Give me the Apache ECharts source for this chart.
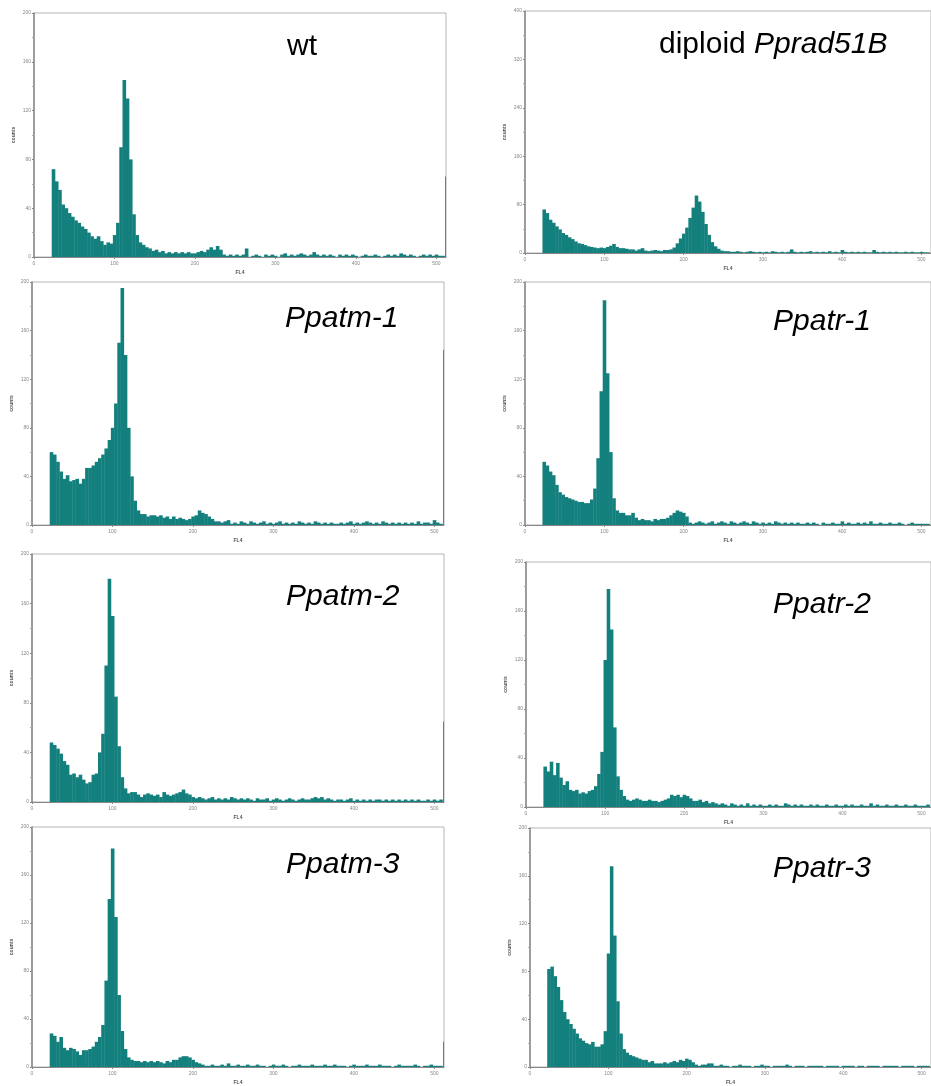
<!DOCTYPE html>
<html>
<head>
<meta charset="utf-8">
<script src="https://cdn.jsdelivr.net/npm/echarts@6/dist/echarts.min.js"></script>
<style>
  html, body { margin: 0; padding: 0; background: #fff; }
  #chart { width: 931px; height: 1086px; }
</style>
</head>
<body>
<div id="chart"></div>
<script>
// histogram bins: 4 channels wide, first bin starts at channel 22
const binStart = 22;
const binWidth = 4;

const wtCounts = [
  72,62,55,43,40,36,33,30,28,25, 23,20,17,15,17,13,10,12,11,18,
  28,90,145,130,80,35,18,12,10,8, 7,5,6,4,5,3,4,3,4,3,
  4,3,4,3,3,4,5,4,6,8, 6,9,6,2,1,2,1,2,1,2,
  7,0,1,2,1,0,2,1,2,1, 0,2,3,1,2,1,2,3,2,1,
  2,4,2,1,2,1,2,1,0,2, 1,2,1,2,1,0,1,2,1,1,
  2,1,0,1,2,1,2,1,3,2, 1,2,1,0,1,2,1,2,1,2, 1,1
];
const rad51bCounts = [
  72,66,55,50,44,39,33,30,26,23, 19,16,15,13,11,10,9,8,9,8,
  10,12,15,10,8,8,7,6,6,4, 6,8,4,3,4,5,4,3,5,5,
  6,9,16,24,32,42,58,75,95,85, 68,48,30,18,11,7,4,3,3,2,
  2,3,2,1,2,3,2,1,2,1, 2,1,3,2,1,2,1,2,6,2,
  1,2,1,2,3,1,2,1,2,1, 3,1,2,1,5,2,1,2,1,2,
  1,2,1,1,5,2,1,2,1,2, 1,2,1,1,2,1,2,1,1,2, 1,1
];
const atm1Counts = [
  60,58,52,44,38,41,36,37,38,34, 38,47,47,49,52,55,58,63,70,80,
  100,150,195,140,80,40,20,12,9,9, 7,8,8,7,8,6,7,5,7,5,
  6,5,4,5,7,8,12,10,9,7, 5,3,3,2,3,4,1,2,1,3,
  2,1,3,2,1,2,3,1,2,1, 2,3,1,2,1,2,1,3,2,1,
  2,1,3,2,1,2,1,2,1,1, 2,1,2,3,1,2,1,2,3,2,
  1,2,1,3,2,1,2,1,2,1, 2,1,2,1,3,1,2,2,1,4, 2,1
];
const atr1Counts = [
  52,49,44,41,33,27,25,23,22,21, 20,19,19,18,18,21,30,55,110,185,
  125,60,22,12,10,10,8,8,10,6, 4,5,4,4,3,5,4,5,5,6,
  8,10,12,11,10,7,2,1,2,3, 2,1,2,3,1,2,3,2,1,3,
  2,1,2,3,2,1,3,2,1,2, 1,2,1,3,2,1,2,1,2,1,
  2,1,1,2,1,2,1,0,2,1, 1,2,1,1,3,1,2,1,1,2,
  1,2,1,3,1,1,2,1,1,2, 1,1,2,1,0,1,2,1,1,1, 1,1
];
const atm2Counts = [
  48,46,43,39,33,30,22,23,20,22, 18,15,16,22,23,40,55,110,180,150,
  85,45,20,11,7,8,8,6,4,6, 7,6,5,6,4,8,6,5,6,7,
  8,10,7,6,4,3,4,3,2,3, 4,2,3,2,3,2,4,3,2,3,
  2,3,2,1,3,2,2,3,1,2, 3,2,1,2,3,2,1,2,3,2,
  2,3,4,3,4,2,3,2,1,2, 2,1,2,3,1,2,1,2,1,2,
  1,2,2,1,2,1,2,1,2,1, 2,1,2,1,2,1,1,2,1,2, 1,2
];
const atr2Counts = [
  33,29,37,26,36,24,18,21,14,13, 14,11,12,11,13,14,17,27,45,120,
  178,145,65,25,14,9,6,5,6,7, 6,5,5,6,5,5,4,5,6,7,
  10,9,10,8,10,9,7,5,5,6, 4,5,3,4,3,2,3,2,1,3,
  2,1,2,1,3,1,2,1,2,1, 1,2,1,2,1,1,3,2,1,2,
  1,2,1,1,2,1,2,1,1,2, 1,1,2,1,1,2,1,2,1,1,
  2,1,1,3,1,2,1,1,2,1, 1,2,1,1,2,1,1,2,1,1, 1,2
];
const atm3Counts = [
  28,26,21,25,16,14,16,15,13,10, 14,14,15,17,21,25,35,72,140,182,
  125,60,30,15,8,6,5,5,4,5, 4,5,4,5,4,3,5,4,6,6,
  8,9,9,8,6,4,3,2,1,1, 2,1,1,2,1,3,1,1,2,1,
  1,2,1,1,2,1,1,0,1,2, 1,1,2,1,0,1,1,2,1,1,
  1,2,1,1,1,2,1,1,2,1, 1,1,0,1,2,1,1,1,2,1,
  1,1,2,1,1,1,0,1,2,1, 1,1,1,2,1,0,1,1,2,1, 1,1
];
const atr3Counts = [
  82,84,76,67,56,46,40,36,32,28, 24,22,20,19,21,17,17,19,30,95,
  168,110,55,28,15,12,10,9,8,7, 6,6,4,5,3,3,3,4,3,4,
  5,4,6,5,7,6,4,2,1,2, 2,3,3,1,1,2,1,1,0,1,
  1,2,1,1,1,0,1,1,2,1, 1,0,1,1,1,1,2,1,0,1,
  1,1,0,1,1,1,1,1,0,1, 1,1,1,0,1,1,1,1,0,1,
  1,0,1,1,1,1,0,1,1,1, 1,1,0,1,1,1,1,0,1,1, 1,1
];

// overflow channel 511 at the right edge of each panel
const edgeCounts = [66, 0, 144, 0, 65, 0, 21, 0];

const sampleNames = ['wt', 'diploid Pprad51B', 'Ppatm-1', 'Ppatr-1', 'Ppatm-2', 'Ppatr-2', 'Ppatm-3', 'Ppatr-3'];
const yMaxes = [200, 400, 200, 200, 200, 200, 200, 200];
const xLabels = [0, 100, 200, 300, 400, 500];

const allCounts = [wtCounts, rad51bCounts, atm1Counts, atr1Counts, atm2Counts, atr2Counts, atm3Counts, atr3Counts];

// panel placement (px)
const layout = [
  { left: 34, top: 13, width: 412, height: 244, tx: 287, ty: 55 },
  { left: 525, top: 11, width: 411, height: 242, tx: 659, ty: 53 },
  { left: 32, top: 282, width: 412, height: 243, tx: 285, ty: 327 },
  { left: 525, top: 282, width: 411, height: 243, tx: 773, ty: 330 },
  { left: 32, top: 554, width: 412, height: 248, tx: 286, ty: 605 },
  { left: 526, top: 562, width: 409, height: 245, tx: 773, ty: 613 },
  { left: 32, top: 827, width: 412, height: 244, tx: 286, ty: 873 },
  { left: 530, top: 828, width: 402, height: 240, tx: 773, ty: 877 },
];

const barColor = '#14807e';

const chart = echarts.init(document.getElementById('chart'), null, { renderer: 'canvas' });

function renderBin(params, api) {
  const p0 = api.coord([api.value(0), api.value(2)]);
  const p1 = api.coord([api.value(1), 0]);
  return {
    type: 'rect',
    shape: { x: p0[0], y: p0[1], width: p1[0] - p0[0] + 0.4, height: p1[1] - p0[1] },
    style: { fill: barColor },
  };
}

const grids = [], xAxes = [], yAxes = [], series = [], graphics = [];

layout.forEach((pos, i) => {
  grids.push({
    left: pos.left, top: pos.top, width: pos.width, height: pos.height,
    show: true, borderColor: '#b5b5b5', borderWidth: 1, backgroundColor: 'transparent',
  });
  xAxes.push({
    gridIndex: i, type: 'value', min: 0, max: 512,
    name: 'FL4', nameLocation: 'middle', nameGap: 13,
    nameTextStyle: { fontSize: 5, fontWeight: 'bold', color: '#555' },
    axisLine: { lineStyle: { color: '#888', width: 1 } },
    axisTick: { customValues: xLabels, length: 2, lineStyle: { color: '#888' } },
    axisLabel: { customValues: xLabels, fontSize: 5, color: '#888', margin: 4 },
    splitLine: { show: false },
  });
  yAxes.push({
    gridIndex: i, type: 'value', min: 0, max: yMaxes[i], interval: yMaxes[i] / 5,
    name: 'counts', nameLocation: 'middle', nameGap: 18, nameRotate: 90,
    nameTextStyle: { fontSize: 5, fontWeight: 'bold', color: '#555' },
    axisLine: { show: true, lineStyle: { color: '#888', width: 1.5 } },
    axisTick: { show: true, length: 2, lineStyle: { color: '#888' } },
    minorTick: { show: true, splitNumber: 2, length: 2, lineStyle: { color: '#aaa' } },
    axisLabel: { fontSize: 5, color: '#888', margin: 3 },
    splitLine: { show: false },
  });

  const bins = allCounts[i].map((c, k) => [binStart + k * binWidth, binStart + (k + 1) * binWidth, c]);
  if (edgeCounts[i] > 0) bins.push([511, 512, edgeCounts[i]]);
  series.push({
    type: 'custom', xAxisIndex: i, yAxisIndex: i,
    renderItem: renderBin, clip: true, silent: true,
    encode: { x: [0, 1], y: 2 },
    data: bins,
  });

  // sample label, gene names in italics
  const name = sampleNames[i];
  const isDiploid = name.startsWith('diploid ');
  graphics.push({
    type: 'text', left: pos.tx, top: pos.ty - 23,
    style: {
      text: isDiploid ? '{n|diploid }{i|' + name.slice(8) + '}' : (name === 'wt' ? '{n|wt}' : '{i|' + name + '}'),
      rich: {
        n: { fontFamily: 'Liberation Sans', fontSize: 30, color: '#222' },
        i: { fontFamily: 'Liberation Sans', fontSize: 30, fontStyle: 'italic', color: '#222' },
      },
    },
  });
});

chart.setOption({
  animation: false,
  grid: grids,
  xAxis: xAxes,
  yAxis: yAxes,
  series: series,
  graphic: graphics,
});
</script>
</body>
</html>
